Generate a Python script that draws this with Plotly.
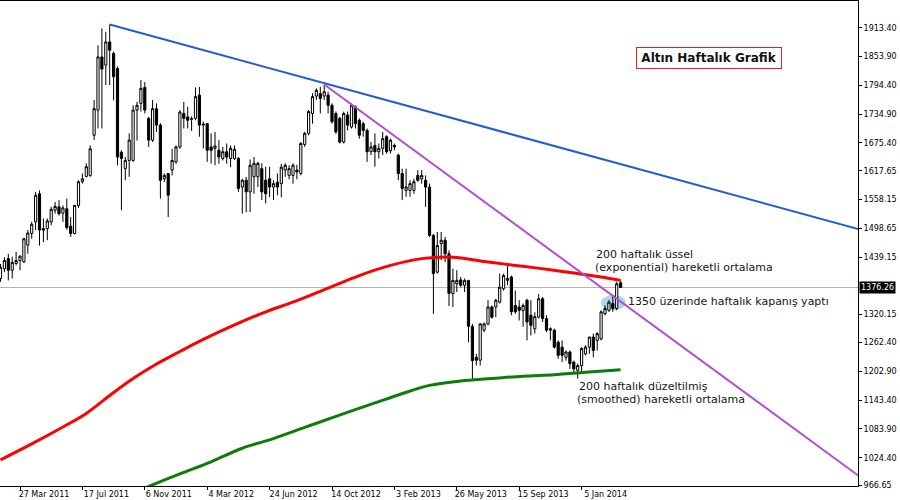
import plotly.graph_objects as go

# ---------------- data ----------------
# weekly bars, index 0 = week of 27 Mar 2011
bar_index = list(range(-5, 155))

opens = [1395, 1415, 1436, 1412, 1426, 1432, 1429, 1464, 1488, 1512,
         1570, 1498, 1498, 1512, 1536, 1543, 1530, 1539, 1503, 1488,
         1546, 1595, 1606, 1608, 1691, 1743, 1853, 1836, 1884, 1860,
         1829, 1656, 1622, 1639, 1639, 1743, 1757, 1790, 1726, 1681,
         1746, 1712, 1601, 1612, 1619, 1636, 1667, 1736, 1729, 1724,
         1726, 1774, 1712, 1715, 1667, 1664, 1660, 1643, 1657, 1643,
         1643, 1643, 1584, 1598, 1574, 1605, 1605, 1622, 1598, 1601,
         1584, 1594, 1591, 1619, 1608, 1608, 1619, 1612, 1672, 1695,
         1736, 1772, 1777, 1772, 1774, 1753, 1736, 1726, 1677, 1733,
         1708, 1750, 1722, 1715, 1701, 1657, 1670, 1657, 1664, 1688,
         1659, 1670, 1650, 1612, 1577, 1577, 1577, 1608, 1601, 1598,
         1584, 1484, 1408, 1467, 1474, 1446, 1364, 1384, 1392, 1381,
         1391, 1296, 1232, 1226, 1288, 1301, 1336, 1336, 1346, 1374,
         1391, 1398, 1339, 1336, 1329, 1350, 1319, 1291, 1315, 1353,
         1312, 1288, 1288, 1263, 1253, 1232, 1243, 1222, 1205, 1215,
         1239, 1253, 1274, 1267, 1270, 1322, 1329, 1343, 1333, 1386]
highs = [1425, 1439, 1446, 1440, 1450, 1443, 1479, 1495, 1512, 1574,
         1577, 1519, 1519, 1543, 1553, 1557, 1546, 1560, 1522, 1546,
         1598, 1612, 1633, 1670, 1764, 1877, 1912, 1905, 1920, 1864,
         1833, 1660, 1646, 1695, 1753, 1760, 1805, 1801, 1729, 1764,
         1757, 1716, 1612, 1612, 1663, 1670, 1743, 1760, 1750, 1730,
         1790, 1791, 1719, 1715, 1695, 1698, 1681, 1667, 1674, 1670,
         1670, 1646, 1601, 1605, 1641, 1646, 1636, 1633, 1626, 1626,
         1598, 1612, 1632, 1633, 1629, 1633, 1630, 1677, 1698, 1743,
         1778, 1788, 1791, 1796, 1781, 1757, 1740, 1729, 1740, 1740,
         1757, 1753, 1726, 1719, 1705, 1677, 1695, 1674, 1698, 1691,
         1684, 1674, 1653, 1622, 1622, 1598, 1601, 1619, 1619, 1608,
         1591, 1487, 1491, 1491, 1481, 1453, 1415, 1412, 1398, 1395,
         1391, 1301, 1239, 1303, 1304, 1350, 1339, 1353, 1405, 1405,
         1422, 1401, 1370, 1350, 1343, 1353, 1350, 1325, 1363, 1357,
         1319, 1294, 1291, 1267, 1267, 1246, 1246, 1225, 1219, 1253,
         1257, 1274, 1281, 1284, 1329, 1339, 1350, 1360, 1388, 1391]
lows = [1388, 1408, 1391, 1395, 1422, 1412, 1427, 1446, 1477, 1495,
        1463, 1470, 1474, 1505, 1529, 1525, 1512, 1496, 1481, 1486,
        1541, 1591, 1604, 1605, 1681, 1705, 1705, 1795, 1795, 1763,
        1629, 1536, 1598, 1605, 1636, 1680, 1740, 1736, 1667, 1677,
        1698, 1560, 1594, 1522, 1608, 1632, 1663, 1705, 1705, 1700,
        1722, 1688, 1664, 1636, 1632, 1629, 1632, 1639, 1632, 1625,
        1640, 1574, 1529, 1532, 1532, 1570, 1584, 1557, 1550, 1563,
        1557, 1567, 1563, 1605, 1600, 1591, 1600, 1608, 1667, 1691,
        1715, 1764, 1736, 1764, 1736, 1715, 1694, 1674, 1674, 1701,
        1705, 1705, 1684, 1688, 1636, 1650, 1626, 1643, 1650, 1653,
        1653, 1660, 1598, 1557, 1564, 1564, 1570, 1595, 1591, 1543,
        1481, 1322, 1405, 1433, 1429, 1338, 1336, 1367, 1377, 1367,
        1263, 1186, 1215, 1215, 1284, 1298, 1312, 1315, 1343, 1370,
        1381, 1319, 1322, 1308, 1295, 1267, 1277, 1281, 1312, 1305,
        1284, 1267, 1250, 1229, 1222, 1225, 1208, 1201, 1188, 1198,
        1236, 1239, 1232, 1246, 1267, 1319, 1326, 1326, 1329, 1376]
closes = [1418, 1432, 1412, 1428, 1432, 1441, 1477, 1489, 1507, 1567,
          1495, 1495, 1514, 1538, 1544, 1529, 1541, 1500, 1488, 1546,
          1595, 1601, 1626, 1663, 1746, 1853, 1828, 1884, 1867, 1812,
          1646, 1643, 1639, 1681, 1743, 1753, 1788, 1743, 1681, 1746,
          1712, 1598, 1608, 1567, 1639, 1667, 1739, 1726, 1722, 1725,
          1771, 1712, 1714, 1660, 1660, 1669, 1646, 1657, 1646, 1664,
          1662, 1581, 1598, 1574, 1629, 1633, 1633, 1574, 1570, 1584,
          1591, 1584, 1625, 1629, 1622, 1629, 1615, 1674, 1695, 1740,
          1771, 1784, 1767, 1781, 1753, 1719, 1698, 1677, 1736, 1712,
          1753, 1715, 1691, 1701, 1657, 1667, 1657, 1664, 1684, 1657,
          1681, 1667, 1612, 1581, 1584, 1591, 1595, 1598, 1608, 1584,
          1484, 1405, 1463, 1474, 1446, 1364, 1391, 1391, 1381, 1391,
          1296, 1225, 1226, 1301, 1301, 1336, 1315, 1350, 1377, 1401,
          1395, 1326, 1326, 1329, 1339, 1305, 1298, 1316, 1353, 1312,
          1288, 1291, 1253, 1236, 1236, 1243, 1219, 1208, 1215, 1250,
          1253, 1274, 1246, 1281, 1326, 1333, 1346, 1333, 1384, 1376.26]

# 200-week exponential moving average (red), sampled
ema_bars = [-5, 3, 11, 17, 23, 29, 35, 41, 47, 55, 63, 71, 79, 87, 95,
            103, 111, 119, 127, 135, 143, 149, 154]
ema_vals = [1020, 1053, 1088, 1116, 1153, 1188, 1218, 1244, 1269, 1299,
            1326, 1349, 1375, 1401, 1422, 1436, 1439, 1430, 1422, 1414,
            1405, 1398, 1391]

# 200-week smoothed moving average (green), sampled
smma_bars = [29, 33, 41, 49, 57, 65, 73, 81, 89, 97, 105, 113, 121, 129,
             137, 145, 154]
smma_vals = [952, 965, 991, 1016, 1044, 1064, 1087, 1110, 1132, 1154,
             1174, 1183, 1188, 1193, 1196, 1201, 1206]

# trend lines (anchor bar, price)
blue_bars = [23, 215]
blue_vals = [1920, 1497]
purple_bars = [78, 215]
purple_vals = [1796, 987]

current_price = 1376.26

x_tick_bars = [0, 16, 32, 48, 64, 80, 96, 112, 128, 144]
x_tick_text = ["27 Mar 2011", "17 Jul 2011", "6 Nov 2011", "4 Mar 2012",
               "24 Jun 2012", "14 Oct 2012", "3 Feb 2013", "26 May 2013",
               "15 Sep 2013", "5 Jan 2014"]
y_ticks = [1913.40, 1853.90, 1794.40, 1734.90, 1675.40, 1617.65, 1558.15,
           1498.65, 1439.15, 1320.15, 1262.40, 1202.90, 1143.40, 1083.90,
           1024.40, 966.65]

FONT = "DejaVu Sans"

fig = go.Figure()

fig.add_trace(go.Candlestick(
    x=bar_index, open=opens, high=highs, low=lows, close=closes,
    increasing=dict(line=dict(color="black", width=1), fillcolor="white"),
    decreasing=dict(line=dict(color="black", width=1), fillcolor="black"),
    whiskerwidth=0, showlegend=False, hoverinfo="skip"))

fig.add_trace(go.Scatter(x=ema_bars, y=ema_vals, mode="lines",
                         line=dict(color="#ff0000", width=3, shape="spline", smoothing=1.0),
                         showlegend=False, hoverinfo="skip"))
fig.add_trace(go.Scatter(x=smma_bars, y=smma_vals, mode="lines",
                         line=dict(color="#0a7d0a", width=3, shape="spline", smoothing=1.0),
                         showlegend=False, hoverinfo="skip"))
fig.add_trace(go.Scatter(x=blue_bars, y=blue_vals, mode="lines",
                         line=dict(color="#235ad8", width=2),
                         showlegend=False, hoverinfo="skip"))
fig.add_trace(go.Scatter(x=purple_bars, y=purple_vals, mode="lines",
                         line=dict(color="#b04fd4", width=2),
                         showlegend=False, hoverinfo="skip"))

# current price line
fig.add_shape(type="line", xref="paper", x0=0, x1=1, yref="y",
              y0=current_price, y1=current_price,
              line=dict(color="#b4b4b4", width=1), layer="below")
# highlight ellipse
fig.add_shape(type="circle", xref="x", yref="y", x0=149.0, x1=155.3,
              y0=1329, y1=1361, fillcolor="#a9d7e8",
              line=dict(width=0), layer="below")

ann_font = dict(family=FONT, size=11, color="#151515")
annotations = [
    dict(x=147.3, y=1444, text="200 haftalık üssel"),
    dict(x=146.8, y=1417, text="(exponential) hareketli ortalama"),
    dict(x=155.3, y=1348, text="1350 üzerinde haftalık kapanış yaptı"),
    dict(x=142.7, y=1172, text="200 haftalık düzeltilmiş"),
    dict(x=142.3, y=1145, text="(smoothed) hareketli ortalama"),
]
for a in annotations:
    fig.add_annotation(xref="x", yref="y", xanchor="left", yanchor="middle",
                       showarrow=False, font=ann_font, **a)

fig.add_annotation(xref="paper", yref="paper", x=0.8263, y=0.8835,
                   xanchor="center", yanchor="middle", showarrow=False,
                   text="<b>Altın Haftalık Grafik</b>",
                   font=dict(family=FONT, size=12, color="#111111"),
                   bordercolor="#e3202a", borderwidth=1, borderpad=2,
                   width=140, height=16, bgcolor="white")

fig.add_annotation(xref="paper", yref="y", x=1, y=current_price,
                   xanchor="left", yanchor="middle", xshift=1,
                   showarrow=False, text="1376.26",
                   font=dict(family=FONT, size=8, color="white"),
                   bgcolor="black", borderpad=1)

fig.update_layout(
    width=900, height=500,
    margin=dict(l=0, r=42, t=1, b=14),
    paper_bgcolor="white", plot_bgcolor="white",
    showlegend=False, hovermode=False,
    boxgap=0.2,
    xaxis=dict(range=[-5.128, 214.87], rangeslider=dict(visible=False),
               showgrid=False, zeroline=False,
               showline=True, linecolor="black", linewidth=1, mirror=True,
               ticks="outside", ticklen=3, tickcolor="black",
               tickvals=x_tick_bars, ticktext=x_tick_text,
               ticklabelshift=24, ticklabelstandoff=-3,
               tickfont=dict(family=FONT, size=8, color="black"),
               automargin=False),
    yaxis=dict(range=[965.9, 1968.6], side="right",
               showgrid=False, zeroline=False,
               showline=True, linecolor="black", linewidth=1,
               ticks="outside", ticklen=3, tickcolor="black",
               tickvals=y_ticks, ticktext=[f"{v:.2f}" for v in y_ticks],
               tickfont=dict(family=FONT, size=8, color="black"),
               automargin=False),
)

fig.write_html("out.html", config={"displayModeBar": False},
               post_script="document.body.style.margin='0px';document.body.style.overflow='hidden';")
